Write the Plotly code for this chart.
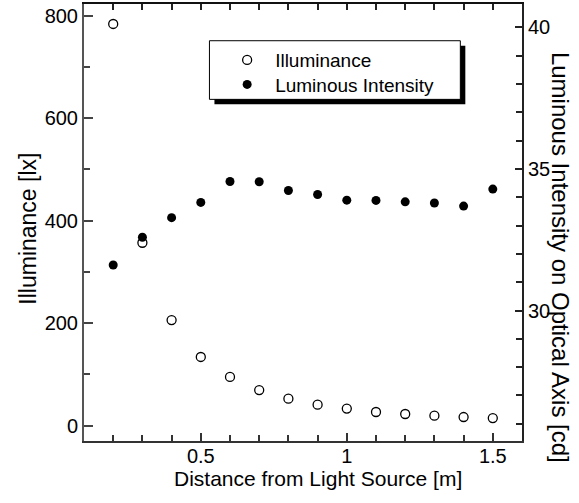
import plotly.graph_objects as go

distance = [0.2, 0.3, 0.4, 0.5, 0.6, 0.7, 0.8, 0.9, 1.0, 1.1, 1.2, 1.3, 1.4, 1.5]
illuminance = [784, 357, 206, 134, 95, 69.5, 52.7, 41, 33.2, 26.6, 22.7, 19.5, 16.8, 14.8]
luminous_intensity = [31.61, 32.59, 33.28, 33.82, 34.56, 34.55, 34.24, 34.10, 33.90, 33.89, 33.84, 33.80, 33.69, 34.29]

FONT = "Liberation Sans, Arial, sans-serif"

L, R, T, B = 83.5, 521.7, 4.0, 440.7
W, H = 579, 503
PW, PH = R - L, B - T


def px(x):
    return (x - L) / PW


def py(y):
    return (B - y) / PH


fig = go.Figure()
fig.add_trace(go.Scatter(
    x=distance, y=illuminance, mode="markers", name="Illuminance",
    marker=dict(symbol="circle-open", size=9, color="black", line=dict(width=1.3, color="black")),
    xaxis="x", yaxis="y", legend="legend",
))
fig.add_trace(go.Scatter(
    x=distance, y=luminous_intensity, mode="markers", name="Luminous Intensity",
    marker=dict(symbol="circle", size=9, color="black"),
    xaxis="x", yaxis="y2", legend="legend2",
))
fig.add_trace(go.Scatter(x=[None], y=[None], xaxis="x2", yaxis="y", showlegend=False, hoverinfo="skip"))

tickfont = dict(family=FONT, size=20, color="black")
xtitlefont = dict(family=FONT, size=21, color="black")
ytitlefont = dict(family=FONT, size=23, color="black")
legfont = dict(family=FONT, size=19, color="black")
XRANGE = [0.1, 1.6]

leg_common = dict(xanchor="left", yanchor="middle", bgcolor="rgba(0,0,0,0)", borderwidth=0,
                  font=legfont, itemwidth=46)

fig.update_layout(
    width=W, height=H,
    margin=dict(l=L, r=W - R, t=T, b=H - B, pad=0),
    plot_bgcolor="white", paper_bgcolor="white",
    showlegend=True,
    legend=dict(x=px(218.7), y=py(60), **leg_common),
    legend2=dict(x=px(218.7), y=py(84.5), **leg_common),
    xaxis=dict(
        range=XRANGE, dtick=0.5, tick0=0, ticks="inside", ticklen=8, tickwidth=1.5,
        tickcolor="#333", showline=True, linecolor="#333", linewidth=2,
        showgrid=False, zeroline=False, tickfont=tickfont, ticklabelstandoff=-4,
        minor=dict(dtick=0.1, tick0=0, ticks="inside", ticklen=6, tickwidth=1.5, tickcolor="#333", showgrid=False),
    ),
    xaxis2=dict(
        range=XRANGE, dtick=0.1, tick0=0, ticks="inside", ticklen=6, tickwidth=1.5,
        tickcolor="#222", showline=True, linecolor="#111", linewidth=2,
        overlaying="x", side="top", anchor="y", showticklabels=False,
        showgrid=False, zeroline=False,
    ),
    yaxis=dict(
        range=[-30, 823], dtick=200, tick0=0, ticks="inside", ticklen=9, tickwidth=1.5,
        tickcolor="#444", showline=True, linecolor="#555", linewidth=2,
        showgrid=False, zeroline=False, tickfont=tickfont,
        minor=dict(dtick=100, tick0=0, ticks="inside", ticklen=6, tickwidth=1.5, tickcolor="#444", showgrid=False),
    ),
    yaxis2=dict(
        range=[25.39, 40.83], dtick=5, tick0=0, ticks="inside", ticklen=7, tickwidth=1.5,
        tickcolor="#222", showline=True, linecolor="#222", linewidth=2,
        overlaying="y", side="right", anchor="x",
        showgrid=False, zeroline=False, tickfont=tickfont,
        minor=dict(dtick=1, tick0=0, ticks="inside", ticklen=6, tickwidth=1.5, tickcolor="#222", showgrid=False),
    ),
    annotations=[
        dict(text="Distance from Light Source [m]",
             xref="paper", yref="paper", x=px(318), y=py(478),
             xanchor="center", yanchor="middle", showarrow=False, font=xtitlefont),
        dict(text="Illuminance [lx]", textangle=-90,
             xref="paper", yref="paper", x=px(28), y=py(229),
             xanchor="center", yanchor="middle", showarrow=False, font=ytitlefont),
        dict(text="Luminous Intensity on Optical Axis [cd]", textangle=90,
             xref="paper", yref="paper", x=px(561), y=py(257),
             xanchor="center", yanchor="middle", showarrow=False,
             font=dict(family=FONT, size=24, color="black")),
    ],
    shapes=[
        dict(type="rect", xref="paper", yref="paper",
             x0=px(214), x1=px(465), y0=py(104.3), y1=py(45.7),
             fillcolor="black", line=dict(width=0), layer="above"),
        dict(type="rect", xref="paper", yref="paper",
             x0=px(209), x1=px(460), y0=py(99.3), y1=py(40.7),
             fillcolor="white", line=dict(width=1, color="black"), layer="above"),
    ],
)

fig.write_html("out.html")
